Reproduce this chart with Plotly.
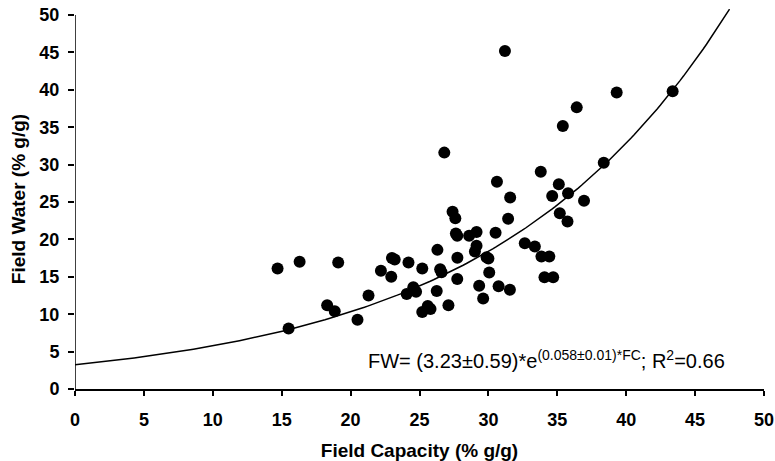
import numpy as np
import plotly.graph_objects as go

# Field capacity (x) and field water (y), % g/g
field_capacity = [14.7, 16.3, 19.1, 22.2, 23.0, 23.2, 22.95, 24.2, 25.2, 24.07, 24.55, 24.75,
                  21.3, 18.3, 18.85, 20.5, 15.5, 25.2, 25.6, 25.8, 26.25, 27.1, 26.3, 26.5,
                  26.6, 27.75, 27.74, 27.64, 27.74, 28.6, 29.14, 30.52, 29.14, 29.02, 29.87,
                  30.0, 30.06, 29.33, 29.62, 30.74, 31.56, 27.4, 27.6, 31.43, 31.58, 30.62,
                  26.8, 31.2, 32.64, 33.37, 33.85, 34.42, 34.07, 34.7, 33.8, 35.11, 34.63,
                  35.78, 36.94, 35.18, 35.74, 35.4, 36.41, 38.37, 39.31, 43.37]
field_water = [16.1, 17.0, 16.9, 15.8, 17.5, 17.3, 15.0, 16.9, 16.1, 12.7, 13.6, 13.0,
               12.5, 11.2, 10.4, 9.25, 8.1, 10.3, 11.1, 10.7, 13.1, 11.2, 18.6, 16.0,
               15.6, 17.55, 14.7, 20.8, 20.5, 20.5, 21.0, 20.9, 19.15, 18.37, 17.6,
               17.45, 15.57, 13.8, 12.1, 13.75, 13.26, 23.7, 22.83, 22.75, 25.6, 27.7,
               31.6, 45.2, 19.49, 19.04, 17.7, 17.7, 14.93, 14.93, 29.05, 27.37, 25.81,
               26.17, 25.18, 23.5, 22.38, 35.15, 37.65, 30.25, 39.65, 39.79]

# Fitted model as printed on the chart: FW = a * exp(b * FC)
fit_a = 3.23
fit_b = 0.058
fit_fc_max = 47.5

x_ticks = [0, 5, 10, 15, 20, 25, 30, 35, 40, 45, 50]
y_ticks = [0, 5, 10, 15, 20, 25, 30, 35, 40, 45, 50]

fit_x = np.linspace(0, fit_fc_max, 200)
fit_y = fit_a * np.exp(fit_b * fit_x)

FONT = "Liberation Sans, Arial, sans-serif"

fig = go.Figure()
fig.add_trace(go.Scatter(x=fit_x, y=fit_y, mode="lines",
                         line=dict(color="black", width=1.5), hoverinfo="skip"))
fig.add_trace(go.Scatter(x=field_capacity, y=field_water, mode="markers",
                         marker=dict(color="black", size=12, line=dict(width=0))))

fig.add_shape(type="line", xref="x", yref="y", x0=0, x1=0, y0=0, y1=50,
              line=dict(color="black", width=1.5))

fig.add_annotation(x=47.35, y=2.0, xref="x", yref="y", xanchor="right", yanchor="bottom",
                   text="FW= (3.23±0.59)*e<sup>(0.058±0.01)*FC</sup>; R<sup>2</sup>=0.66",
                   showarrow=False, font=dict(family=FONT, size=20, color="black"))

fig.update_layout(
    width=775, height=461,
    margin=dict(l=75, r=11, t=9, b=72),
    paper_bgcolor="white", plot_bgcolor="white",
    showlegend=False,
    font=dict(family=FONT, color="black"),
)
fig.update_xaxes(range=[0, 50], tickvals=x_ticks, ticks="outside", ticklen=5, tickwidth=1.5,
                 tickcolor="black", showline=True, linecolor="black", linewidth=1.5,
                 showgrid=False, zeroline=False, ticklabelstandoff=9, automargin=False,
                 tickfont=dict(family=FONT, size=18, weight="bold", color="black"),
                 title=dict(text="Field Capacity (% g/g)", standoff=14,
                            font=dict(family=FONT, size=19, weight="bold", color="black")))
fig.update_yaxes(range=[0, 50.8], tickvals=y_ticks, ticks="outside", ticklen=6, tickwidth=1.5,
                 tickcolor="black", showline=False, automargin=False,
                 showgrid=False, zeroline=False, ticklabelstandoff=5,
                 tickfont=dict(family=FONT, size=18, weight="bold", color="black"),
                 title=dict(text="Field Water (% g/g)", standoff=8,
                            font=dict(family=FONT, size=19, weight="bold", color="black")))

fig.write_html("out.html")
